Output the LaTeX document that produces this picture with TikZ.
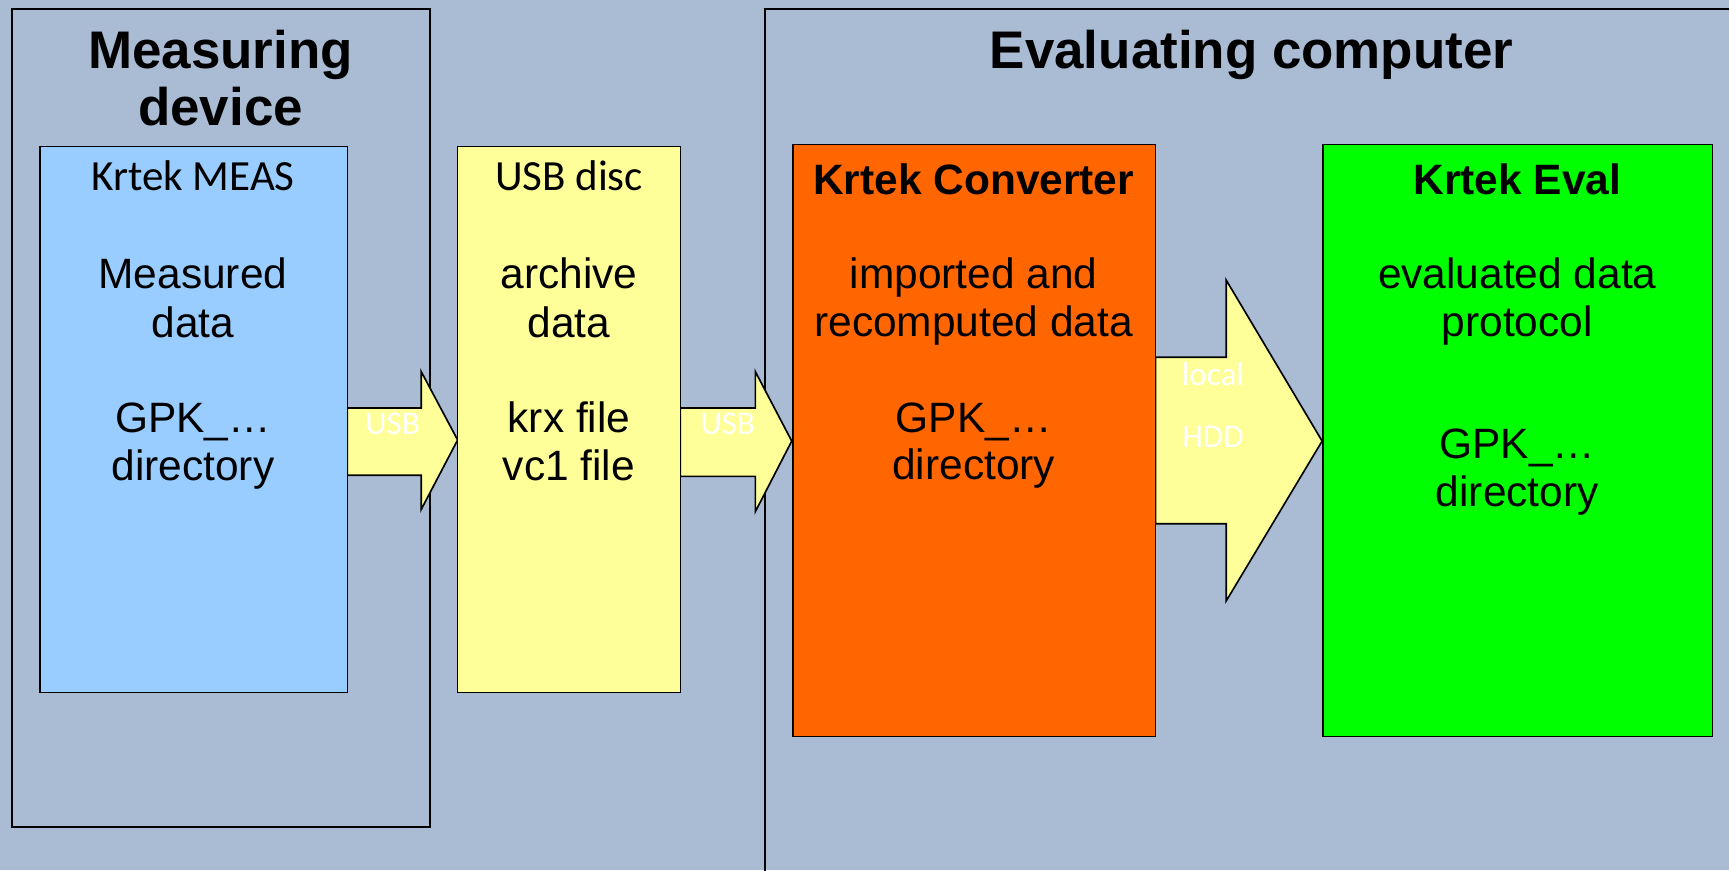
\documentclass[tikz,border=0pt]{standalone}
\usepackage{fontspec}
\setmainfont{Liberation Sans}
\newfontfamily\lightfont{Carlito}
\definecolor{bg}{RGB}{170,187,212}
\definecolor{cblue}{RGB}{153,204,255}
\definecolor{cyellow}{RGB}{255,255,153}
\definecolor{corange}{RGB}{255,102,0}
\definecolor{cgreen}{RGB}{0,255,0}
\tikzset{
  grp/.style={draw=black, line width=1.5pt, anchor=north west, inner sep=0pt, outer sep=0pt},
  box/.style={draw=black, line width=1.5pt, anchor=north west, inner sep=0pt, outer sep=0pt},
  arr/.style={draw=black, line width=1.5pt, fill=cyellow, line join=miter},
  ttl/.style={anchor=base, font=\bfseries\fontsize{48}{53}\selectfont},
  hdr/.style={anchor=base, font=\bfseries\fontsize{38.5}{44}\selectfont},
  lhdr/.style={anchor=base, font=\lightfont\fontsize{39}{44}\selectfont},
  txt/.style={anchor=base, font=\fontsize{38.5}{44}\selectfont},
  wl/.style={anchor=base, text=white, font=\lightfont\fontsize{30}{34}\selectfont}
}
\begin{document}
\begin{tikzpicture}[x=1pt,y=-1pt]
\fill[bg] (0,0) rectangle (1568,789);
\useasboundingbox (0,0) rectangle (1568,789);
\clip (0,0) rectangle (1568,789);
% group frames
\node[grp, minimum width=379pt, minimum height=742pt] (dev) at (11,8) {};
\node[grp, minimum width=900pt, minimum height=800pt] (comp) at (694,8) {};
% arrows
\draw[arr] (315,370) -- (382,370) -- (382,337) -- (415,399) -- (382,462) -- (382,431) -- (315,431) -- cycle;
\draw[arr] (617,370) -- (685,370) -- (685,337) -- (718,400) -- (685,464) -- (685,432) -- (617,432) -- cycle;
\draw[arr] (1048,324) -- (1112,324) -- (1112,254) -- (1199,400) -- (1112,545) -- (1112,475) -- (1048,475) -- cycle;
% boxes
\node[box, fill=cblue, minimum width=279pt, minimum height=495pt] (meas) at (36,133) {};
\node[box, fill=cyellow, minimum width=202pt, minimum height=495pt] (usb) at (415,133) {};
\node[box, fill=corange, minimum width=329pt, minimum height=537pt] (conv) at (719,131) {};
\node[box, fill=cgreen, minimum width=353pt, minimum height=537pt] (eval) at (1200,131) {};
% titles
\node[ttl] (t1a) at (200,62) {Measuring};
\node[ttl] (t1b) at (200,114) {device};
\node[ttl] (t2) at (1135,62) {Evaluating computer};
% Krtek MEAS
\node[lhdr] (h1) at (175,173) {Krtek MEAS};
\node[txt] (m1) at (175,262) {Measured};
\node[txt] (m2) at (175,306) {data};
\node[txt] (m3) at (175,392) {GPK\_…};
\node[txt] (m4) at (175,436) {directory};
% USB disc
\node[lhdr] (h2) at (516,173) {USB disc};
\node[txt] (u1) at (516,262) {archive};
\node[txt] (u2) at (516,306) {data};
\node[txt] (u3) at (516,392) {krx file};
\node[txt] (u4) at (516,436) {vc1 file};
% Krtek Converter
\node[hdr] (h3) at (883,176) {Krtek Converter};
\node[txt] (c1) at (883,262) {imported and};
\node[txt] (c2) at (883,305) {recomputed data};
\node[txt] (c3) at (883,392) {GPK\_…};
\node[txt] (c4) at (883,435) {directory};
% Krtek Eval
\node[hdr] (h4) at (1376,176) {Krtek Eval};
\node[txt] (e1) at (1376,262) {evaluated data};
\node[txt] (e2) at (1376,305) {protocol};
\node[txt] (e3) at (1376,416) {GPK\_…};
\node[txt] (e4) at (1376,459) {directory};
% arrow labels
\node[wl] (l1) at (356,394) {USB};
\node[wl] (l2) at (660,394) {USB};
\node[wl] (l3) at (1100,350) {local};
\node[wl] (l4) at (1100,406) {HDD};
\end{tikzpicture}
\end{document}
